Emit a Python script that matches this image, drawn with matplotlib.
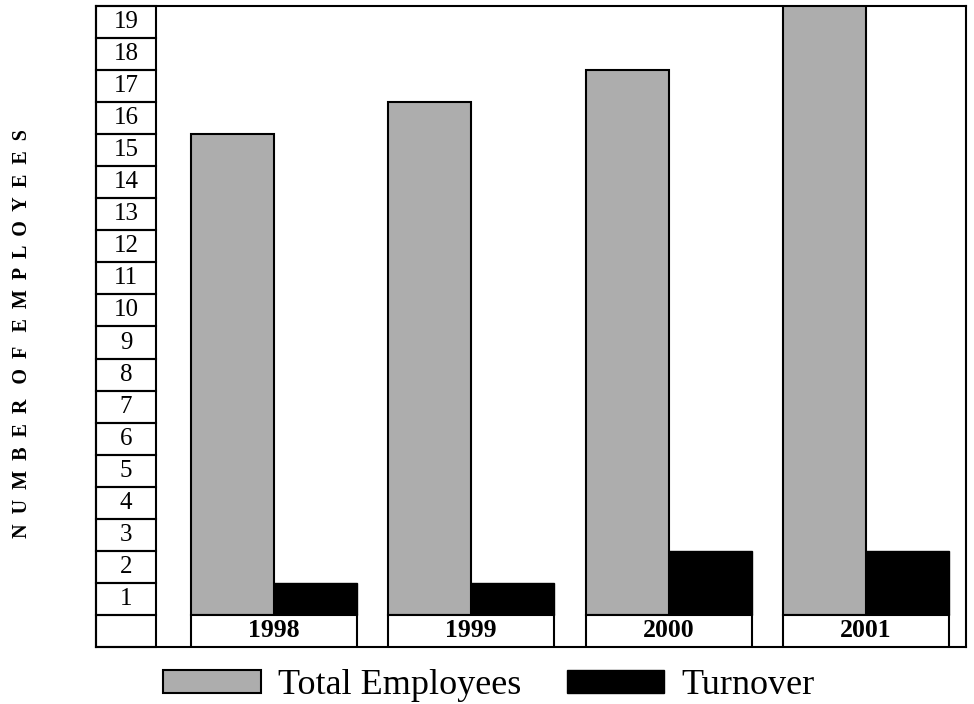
import matplotlib.pyplot as plt
from matplotlib.patches import Rectangle
from matplotlib import transforms
import numpy as np

years = ['1998', '1999', '2000', '2001']
total_employees = [15, 16, 17, 19]
turnover = [1, 1, 2, 2]
y_labels = list(range(1, 20))

plt.rcParams['font.family'] = ['Liberation Serif', 'DejaVu Serif']

fig = plt.figure(figsize=(9.74, 7.04), dpi=100)
ax = fig.add_axes([96/974, 57/704, 870/974, 641/704])

x = np.arange(len(years))
w = 0.42
ax.bar(x - w/2, total_employees, w, color='#adadad', edgecolor='black',
       linewidth=1.5, label='Total Employees', zorder=3)
ax.bar(x + w/2, turnover, w, color='black', edgecolor='black',
       linewidth=1, label='Turnover', zorder=3)

ax.set_xlim(-0.899, 3.506)
ax.set_ylim(-1, 19)
ax.set_xticks([])
ax.set_yticks([])
for s in ax.spines.values():
    s.set_linewidth(1.5)

# number column on the left, one boxed cell per unit
trans = transforms.blended_transform_factory(ax.transAxes, ax.transData)
col_w = 60/870
ax.add_patch(Rectangle((0, -1), col_w, 1, transform=trans, fill=False,
                       lw=1.5, clip_on=False, zorder=4))
for k in y_labels:
    ax.add_patch(Rectangle((0, k - 1), col_w, 1, transform=trans, fill=False,
                           lw=1.5, clip_on=False, zorder=4))
    ax.text(col_w/2, k - 0.5, str(k), transform=trans, ha='center',
            va='center', fontsize=18)

# year boxes under each group
for xi, yr in zip(x, years):
    ax.add_patch(Rectangle((xi - w, -1), 2*w, 1, facecolor='white',
                           edgecolor='black', lw=1.5, zorder=4))
    ax.text(xi, -0.5, yr, ha='center', va='center', fontsize=18.5,
            fontweight='bold', zorder=5)

ylabel = '   '.join('  '.join(word) for word in 'NUMBER OF EMPLOYEES'.split())
fig.text(0.0226, 0.526, ylabel, rotation=90, ha='center', va='center',
         fontsize=14.5, fontweight='bold')

fig.legend(loc='center', bbox_to_anchor=(0.502, 0.0256), ncol=2,
           frameon=False, fontsize=26, handlelength=2.71, handleheight=0.61,
           handletextpad=0.47, columnspacing=1.25)

fig.savefig('out.png', dpi=100)
